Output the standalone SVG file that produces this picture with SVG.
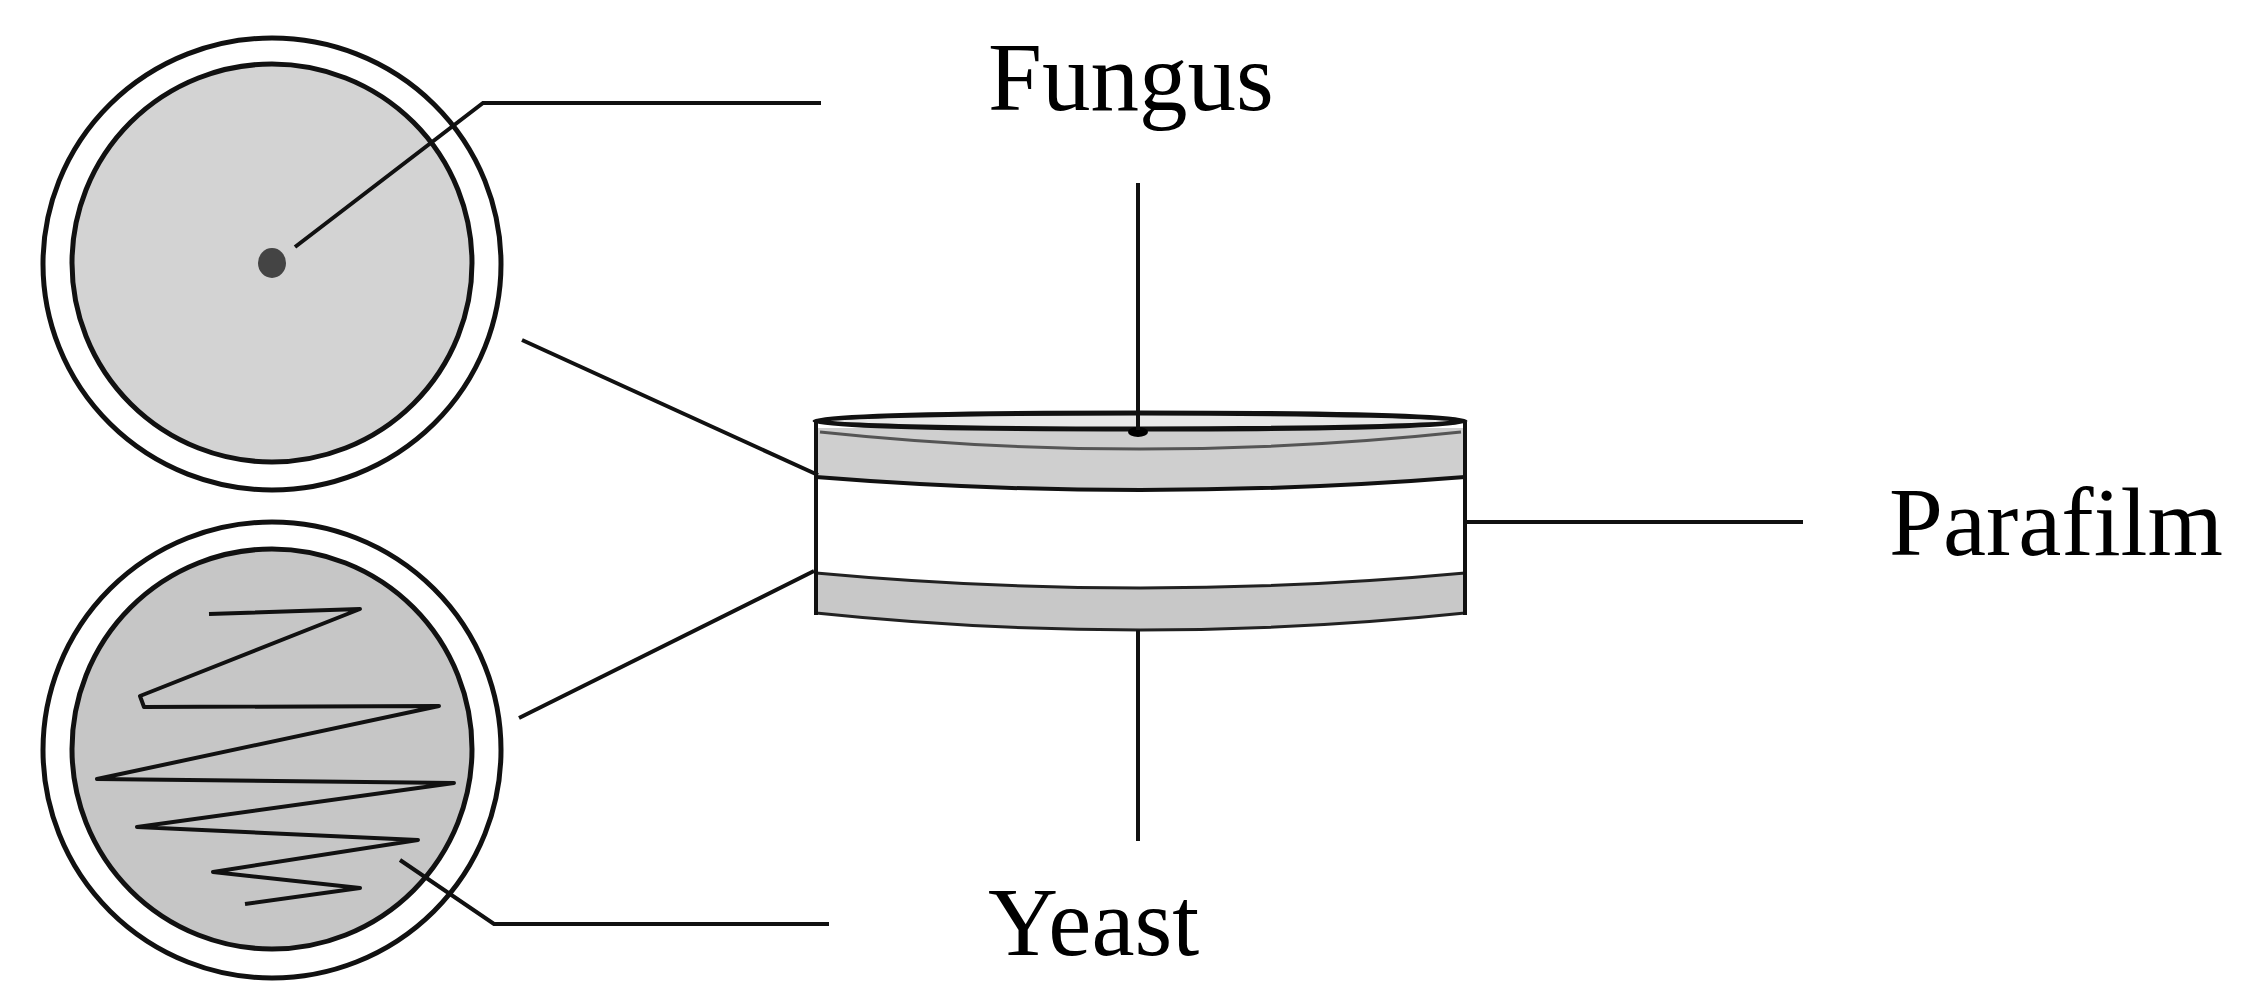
<svg xmlns="http://www.w3.org/2000/svg" width="2261" height="1006" viewBox="0 0 2261 1006">
<style>
.ln{stroke:#111;stroke-width:4;fill:none}
.lab{font-family:"Liberation Serif",serif;font-size:97px;fill:#000}
</style>
<rect width="2261" height="1006" fill="#fff"/>
<g id="plate-fungus">
<ellipse cx="272" cy="264" rx="229" ry="226" fill="#fff" stroke="#111" stroke-width="5"/>
<ellipse cx="272" cy="263" rx="200" ry="199" fill="#d3d3d3" stroke="#111" stroke-width="5"/>
<ellipse cx="272" cy="263" rx="14" ry="15" fill="#444"/>
</g>
<g id="plate-yeast">
<ellipse cx="272" cy="750" rx="229" ry="228" fill="#fff" stroke="#111" stroke-width="5"/>
<ellipse cx="272" cy="749" rx="200" ry="200" fill="#c6c6c6" stroke="#111" stroke-width="5"/>
<polyline class="ln" stroke-width="5" stroke-linejoin="round" points="209,614 360,609 140,696 144,707 439,706 97,779 454,783 137,827 418,840 213,872 360,888 245,904"/>
</g>
<g id="dish">
<path d="M816,428 L816,477 Q1140,503 1465,477 L1465,428 Z" fill="#cfcfcf"/>
<path d="M816,573 Q1140,603 1465,573 L1465,613 Q1140,647 816,613 Z" fill="#c8c8c8" stroke="#222" stroke-width="3"/>
<path d="M816,477 Q1140,503 1465,477" class="ln" stroke-width="3"/>
<path d="M820,432 Q1140,466 1461,432" fill="none" stroke="#555" stroke-width="3"/>
<ellipse cx="1140" cy="421" rx="325" ry="8" fill="#e8e8e8" stroke="#111" stroke-width="5"/>
<line x1="816" y1="422" x2="816" y2="615" class="ln" stroke-width="3"/>
<line x1="1465" y1="422" x2="1465" y2="615" class="ln" stroke-width="3"/>
<ellipse cx="1138" cy="432" rx="10" ry="5" fill="#000"/>
</g>
<g id="connectors">
<polyline class="ln" points="295,247 483,103 821,103"/>
<line class="ln" x1="522" y1="340" x2="818" y2="475"/>
<line class="ln" x1="519" y1="718" x2="814" y2="571"/>
<polyline class="ln" points="400,860 494,924 829,924"/>
<line class="ln" x1="1138" y1="183" x2="1138" y2="430"/>
<line class="ln" x1="1138" y1="630" x2="1138" y2="841"/>
<line class="ln" x1="1465" y1="522" x2="1803" y2="522"/>
</g>
<g id="labels">
<text class="lab" x="988" y="110">Fungus</text>
<text class="lab" x="988" y="955">Yeast</text>
<text class="lab" x="1889" y="555">Parafilm</text>
</g>
</svg>
